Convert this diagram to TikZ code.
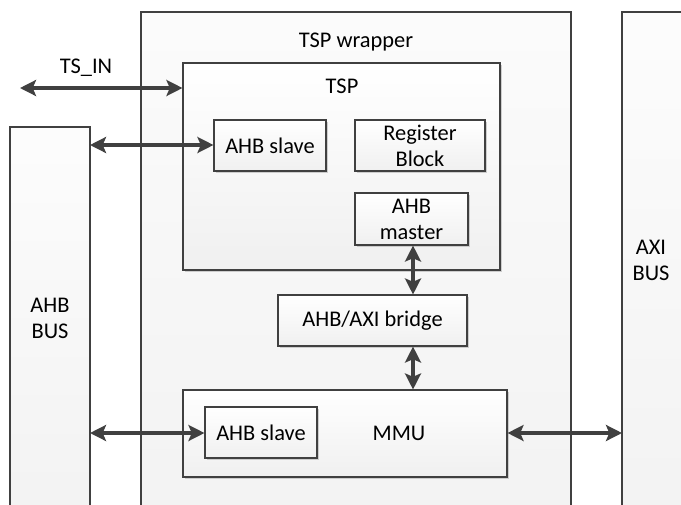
\documentclass[tikz,border=0pt]{standalone}
\usepackage{fontspec}
\setmainfont{Carlito}
\usetikzlibrary{arrows.meta,shadows}
\definecolor{edge}{HTML}{404040}
\definecolor{arr}{HTML}{404040}
\tikzset{
  blk/.style={draw=edge, line width=0.8pt, top color=white, bottom color=gray!12, align=center, inner sep=0pt},
  inner/.style={blk, drop shadow={shadow xshift=1.2pt, shadow yshift=-1.2pt, fill=gray!60, opacity=0.6}},
  lbl/.style={font=\fontsize{16.8}{19.5}\selectfont, align=center, inner sep=0pt},
  tip/.tip={Stealth[length=12pt,width=12pt,inset=2.5pt]},
  link/.style={draw=arr, line width=2.6pt, tip-tip}
}
\begin{document}
\begin{tikzpicture}[x=0.75pt,y=-0.75pt]
\useasboundingbox (0,0) rectangle (681,504);
\fill[white] (0,0) rectangle (681,504);
\begin{scope}
\clip (0,0) rectangle (681,504);
% buses and wrapper
\path[blk, top color=gray!3, bottom color=gray!10] (141,12) rectangle (571,520);
\path[blk, top color=gray!2, bottom color=gray!10] (10,127) rectangle (90,520);
\path[blk, top color=gray!2, bottom color=gray!10] (622,12) rectangle (700,520);
\end{scope}
\node[lbl] (wrap) at (356,42) {TSP wrapper};
\node[lbl] (ahbbus) at (50,318) {AHB\\BUS};
\node[lbl] (axibus) at (651,260) {AXI\\BUS};
\coordinate (ahbL) at (90,145);
\coordinate (ahbL2) at (90,433);
\coordinate (axiR) at (622,433);
\coordinate (tsin) at (20,88);
% TSP
\node[blk, minimum width=317*0.75pt, minimum height=207*0.75pt, drop shadow={shadow xshift=1.2pt, shadow yshift=-1.2pt, fill=gray!60, opacity=0.6}] (tsp) at (341.5,166.5) {};
\node[lbl] (tsplbl) at (342,86) {TSP};
\node[inner, minimum width=112*0.75pt, minimum height=51*0.75pt, lbl] (slave1) at (270,145.5) {AHB slave};
\node[inner, minimum width=130*0.75pt, minimum height=51*0.75pt, lbl] (reg) at (420,145.5) {Register\\Block};
\node[inner, minimum width=113*0.75pt, minimum height=52*0.75pt, lbl] (master) at (411.5,219) {AHB\\master};
\node[inner, minimum width=189*0.75pt, minimum height=51*0.75pt, lbl] (bridge) at (372.5,320.5) {AHB/AXI bridge};
\node[blk, minimum width=324*0.75pt, minimum height=87*0.75pt, drop shadow={shadow xshift=1.2pt, shadow yshift=-1.2pt, fill=gray!60, opacity=0.6}] (mmu) at (345,433.5) {};
\node[lbl] (mmulbl) at (399,433) {MMU};
\node[inner, minimum width=112*0.75pt, minimum height=51*0.75pt, lbl] (slave2) at (261,432.5) {AHB slave};
\node[lbl] (tsinlbl) at (86,68) {TS\_IN};
% arrows
\draw[link] (tsin) -- (tsp.west |- tsin);
\draw[link] (ahbL) -- (slave1.west |- ahbL);
\draw[link] (master.south -| 413,0) -- (bridge.north -| 413,0);
\draw[link] (bridge.south -| 413,0) -- (mmu.north -| 413,0);
\draw[link] (ahbL2) -- (slave2.west |- ahbL2);
\draw[link] (mmu.east |- axiR) -- (axiR);
\end{tikzpicture}
\end{document}
